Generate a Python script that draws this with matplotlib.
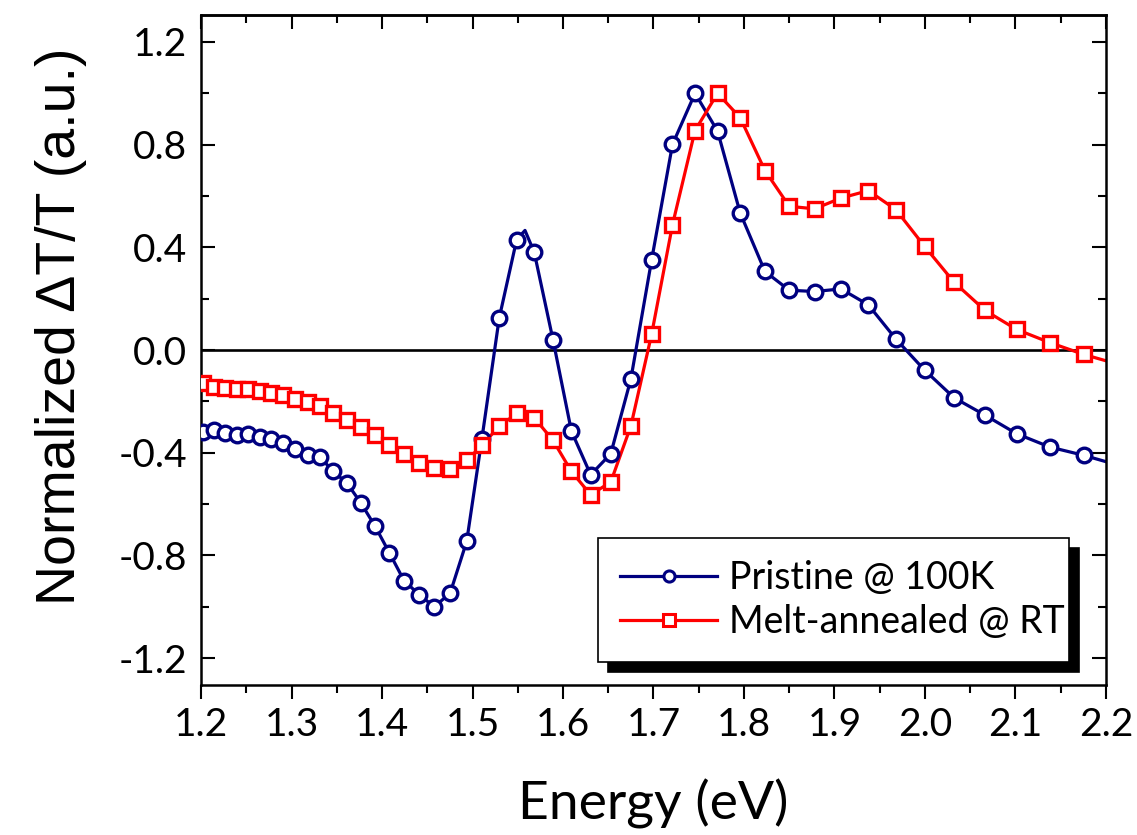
import numpy as np
import matplotlib
matplotlib.use("Agg")
import matplotlib.pyplot as plt
from matplotlib.ticker import MultipleLocator, FormatStrFormatter, NullFormatter

# ---- data ----
energy = [1.2025, 1.2147, 1.2268, 1.2394, 1.2520, 1.2648, 1.2776, 1.2905, 1.3039,
          1.3180, 1.3316, 1.3460, 1.3610, 1.3765, 1.3923, 1.4080, 1.4243, 1.4410,
          1.4578, 1.4753, 1.4936, 1.5104, 1.5295, 1.5488, 1.5682, 1.5890, 1.6093,
          1.6306, 1.6528, 1.6750, 1.6980, 1.7210, 1.7459, 1.7708, 1.7958, 1.8232,
          1.8500, 1.8780, 1.9072, 1.9374, 1.9678, 1.9995, 2.0322, 2.0665, 2.1013,
          2.1380, 2.1753]

pristine = [-0.319, -0.310, -0.322, -0.332, -0.329, -0.339, -0.348, -0.362, -0.384,
            -0.410, -0.417, -0.473, -0.517, -0.595, -0.686, -0.789, -0.898, -0.953,
            -1.000, -0.947, -0.745, -0.345, 0.124, 0.430, 0.381, 0.039, -0.316,
            -0.486, -0.404, -0.113, 0.352, 0.801, 1.000, 0.853, 0.534, 0.306,
            0.233, 0.228, 0.238, 0.176, 0.043, -0.078, -0.186, -0.254, -0.326,
            -0.378, -0.410]

annealed = [-0.130, -0.143, -0.147, -0.150, -0.152, -0.159, -0.169, -0.176, -0.189,
            -0.202, -0.219, -0.244, -0.271, -0.299, -0.332, -0.369, -0.406, -0.439,
            -0.458, -0.462, -0.430, -0.371, -0.297, -0.247, -0.264, -0.352, -0.473,
            -0.564, -0.514, -0.296, 0.0625, 0.488, 0.855, 1.000, 0.905, 0.699,
            0.560, 0.550, 0.592, 0.621, 0.547, 0.404, 0.264, 0.154, 0.080,
            0.029, -0.017]

# extra points of the connecting curves (no marker)
pristine_line_extra_x = [1.558, 2.21]
pristine_line_extra_y = [0.466, -0.445]
annealed_line_extra_x = [2.21]
annealed_line_extra_y = [-0.052]

labels = ["Pristine @ 100K", "Melt-annealed @ RT"]
xlabel = "Energy (eV)"
ylabel = "Normalized \u0394T/T (a.u.)"

blue = "#000080"
red = "#FF0000"

def line_data(x, y, ex, ey):
    xx = np.array(list(x) + list(ex))
    yy = np.array(list(y) + list(ey))
    o = np.argsort(xx)
    return xx[o], yy[o]

fig = plt.figure(figsize=(11.37, 8.35), dpi=100)
ax = fig.add_axes([0.1768, 0.1796, 0.9727 - 0.1768, 0.982 - 0.1796])

tick_font = "Lato"

ax.axhline(0, color="black", lw=1.9, zorder=1)

bx, by = line_data(energy, pristine, pristine_line_extra_x, pristine_line_extra_y)
rx, ry = line_data(energy, annealed, annealed_line_extra_x, annealed_line_extra_y)

ax.plot(bx, by, color=blue, lw=2.3, zorder=2, solid_joinstyle="round")
ax.plot(rx, ry, color=red, lw=2.3, zorder=2, solid_joinstyle="round")
ax.plot(energy, pristine, ls="none", marker="o", ms=10.5, mfc="white", mec=blue, mew=2.4, zorder=3)
ax.plot(energy, annealed, ls="none", marker="s", ms=10, mfc="white", mec=red, mew=2.4, zorder=3)

# legend proxies
h1, = ax.plot([], [], color=blue, lw=2.3, marker="o", ms=8, mfc="white", mec=blue, mew=2.2)
h2, = ax.plot([], [], color=red, lw=2.3, marker="s", ms=8, mfc="white", mec=red, mew=2.2)

ax.set_xlim(1.2, 2.2)
ax.set_ylim(-1.305, 1.305)
ax.xaxis.set_major_locator(MultipleLocator(0.1))
ax.xaxis.set_minor_locator(MultipleLocator(0.05))
ax.yaxis.set_major_locator(MultipleLocator(0.4))
ax.yaxis.set_minor_locator(MultipleLocator(0.2))
ax.xaxis.set_major_formatter(FormatStrFormatter("%.1f"))
ax.yaxis.set_major_formatter(FormatStrFormatter("%.1f"))

for s in ax.spines.values():
    s.set_linewidth(1.8)

ax.tick_params(axis="x", which="both", bottom=True, top=False, direction="out")
ax.tick_params(axis="y", which="both", left=True, right=True, direction="in")
ax.tick_params(which="major", length=10, width=1.5)
ax.tick_params(which="minor", length=6, width=1.5)
ax.tick_params(axis="y", pad=10)
ax.tick_params(axis="x", pad=6)

# top axis: inward ticks, no labels
top = ax.secondary_xaxis("top")
top.xaxis.set_major_locator(MultipleLocator(0.1))
top.xaxis.set_minor_locator(MultipleLocator(0.05))
top.xaxis.set_major_formatter(NullFormatter())
top.tick_params(which="both", direction="in", width=1.5)
top.tick_params(which="major", length=10)
top.tick_params(which="minor", length=6)
top.spines["top"].set_linewidth(1.8)

for lab in ax.get_xticklabels() + ax.get_yticklabels():
    lab.set_fontfamily(tick_font)
    lab.set_fontsize(28)

ax.set_xlabel(xlabel, fontsize=38.5, family="Lato")
ax.set_ylabel(ylabel, fontsize=40, family="Liberation Sans")
ax.xaxis.set_label_coords(0.5, -0.14)
ax.yaxis.set_label_coords(-0.126, 0.536)

leg = ax.legend([h1, h2], labels, loc="lower left",
                bbox_to_anchor=(0.4387, 0.0343, 0.959 - 0.4387, 0.19), mode="expand",
                borderaxespad=0, fancybox=False, frameon=True,
                prop={"family": tick_font, "size": 27},
                handlelength=2.6, handletextpad=0.3, labelspacing=0.23,
                borderpad=0.58,
                shadow={"color": "black", "alpha": 1, "ox": 7, "oy": -7})
leg.get_frame().set_edgecolor("black")
leg.get_frame().set_linewidth(1.2)
leg.set_zorder(5)

fig.savefig("out.png", dpi=100)
